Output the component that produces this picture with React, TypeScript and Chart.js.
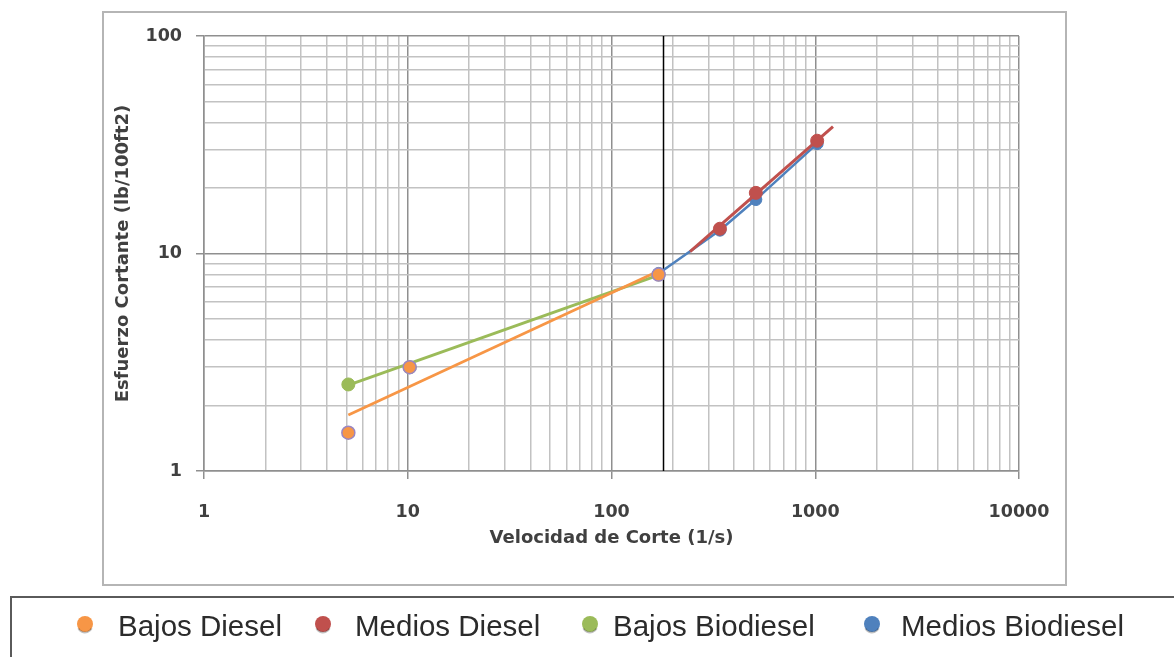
import React, { useEffect, useRef } from 'react';
import { Chart, registerables } from 'chart.js';

Chart.register(...registerables);

// ---------- data ----------
const seriesNames = ['Bajos Diesel', 'Medios Diesel', 'Bajos Biodiesel', 'Medios Biodiesel'];

const bajosDieselX = [5.11, 10.22, 170.3];
const bajosDieselY = [1.5, 3.0, 8.0];
const bajosDieselTrendX = [5.11, 170.3];
const bajosDieselTrendY = [1.81, 8.3];

const mediosDieselX = [340.6, 510.9, 1021.8];
const mediosDieselY = [13.0, 19.0, 33.0];
const mediosDieselTrendX = [243, 1222];
const mediosDieselTrendY = [10.2, 38.3];

const bajosBioX = [5.11, 10.22, 170.3];
const bajosBioY = [2.5, 3.0, 8.0];
const bajosBioTrendX = [5.11, 170.3];
const bajosBioTrendY = [2.48, 7.95];

const mediosBioX = [170.3, 340.6, 510.9, 1021.8];
const mediosBioY = [8.1, 12.8, 17.7, 32.0];

const dividerX = [180, 180];
const dividerY = [1, 100];

const xMajor = [1, 10, 100, 1000, 10000];
const xTickLabels = ['1', '10', '100', '1000', '10000'];
const yMajor = [1, 10, 100];
const yTickLabels = ['1', '10', '100'];
const minorMultipliers = [2, 3, 4, 5, 6, 7, 8, 9];

// ---------- helpers ----------
const pts = (xs: number[], ys: number[]) => xs.map((x, i) => ({ x, y: ys[i] }));

const buildLogTicks = (majors: number[]) => {
  const out: { value: number }[] = [];
  majors.forEach((m, i) => {
    out.push({ value: m });
    if (i < majors.length - 1) minorMultipliers.forEach((k) => out.push({ value: m * k }));
  });
  return out;
};

const isMajorVal = (v: number, majors: number[]) => majors.some((m) => Math.abs(m - v) < 1e-9 * m);
const labelFor = (v: number, majors: number[], labels: string[]) => {
  const i = majors.findIndex((m) => Math.abs(m - v) < 1e-9 * m);
  return i >= 0 ? labels[i] : '';
};

const COLORS = {
  orange: '#F79646',
  red: '#C0504D',
  green: '#9BBB59',
  blue: '#4F81BD',
};

const GRID_MAJOR = '#8f8f8f';
const GRID_MINOR = '#c2c2c2';

const tickFont = { family: '"DejaVu Sans", sans-serif', size: 17.5, weight: 'bold' as const };
const titleFont = { family: '"DejaVu Sans", sans-serif', size: 18, weight: 'bold' as const };

const legendSlots = [
  { dot: 85, text: 118 },
  { dot: 323, text: 355 },
  { dot: 590, text: 613 },
  { dot: 872, text: 901 },
];

const framePlugin = {
  id: 'framePlugin',
  beforeDraw(chart: any) {
    const ctx = chart.ctx;
    ctx.save();
    ctx.fillStyle = '#ffffff';
    ctx.fillRect(0, 0, chart.width, chart.height);
    ctx.strokeStyle = '#b5b5b5';
    ctx.lineWidth = 2;
    ctx.strokeRect(103, 12, 963, 573);
    ctx.restore();
  },
  afterDraw(chart: any) {
    const ctx = chart.ctx;
    ctx.save();
    ctx.strokeStyle = '#5a5a5a';
    ctx.lineWidth = 2;
    ctx.strokeRect(11, 597, 1250, 120);
    const items = chart.data.datasets.filter((d: any) => seriesNames.includes(d.label));
    items.forEach((ds: any, i: number) => {
      const p = legendSlots[i];
      if (!p) return;
      const cy = 624;
      ctx.beginPath();
      ctx.arc(p.dot, cy, 8, 0, Math.PI * 2);
      ctx.fillStyle = ds.backgroundColor;
      ctx.fill();
      ctx.beginPath();
      ctx.arc(p.dot, cy + 1, 7.5, 0.15 * Math.PI, 0.85 * Math.PI);
      ctx.strokeStyle = 'rgba(0,0,0,0.25)';
      ctx.lineWidth = 2;
      ctx.stroke();
      ctx.font = '29.5px "Liberation Sans", Arial, sans-serif';
      ctx.fillStyle = '#2b2b2b';
      ctx.textBaseline = 'alphabetic';
      ctx.textAlign = 'left';
      ctx.fillText(ds.label, p.text, 636);
    });
    ctx.restore();
  },
};

export default function App() {
  const ref = useRef<HTMLCanvasElement>(null);

  useEffect(() => {
    if (!ref.current) return;
    const chart = new Chart(ref.current, {
      type: 'scatter',
      data: {
        datasets: [
          {
            label: seriesNames[0],
            data: pts(bajosDieselX, bajosDieselY),
            backgroundColor: COLORS.orange,
            borderColor: '#9a86c2',
            pointBorderWidth: 1.5,
            pointRadius: 6.5,
            showLine: false,
            order: 1,
          },
          {
            label: seriesNames[1],
            data: pts(mediosDieselX, mediosDieselY),
            backgroundColor: COLORS.red,
            borderColor: COLORS.red,
            pointBorderWidth: 1,
            pointRadius: 6.5,
            showLine: false,
            order: 2,
          },
          {
            label: seriesNames[2],
            data: pts(bajosBioX, bajosBioY),
            backgroundColor: COLORS.green,
            borderColor: COLORS.green,
            pointBorderWidth: 1,
            pointRadius: 6.5,
            showLine: false,
            order: 3,
          },
          {
            label: seriesNames[3],
            data: pts(mediosBioX, mediosBioY),
            backgroundColor: COLORS.blue,
            borderColor: COLORS.blue,
            pointBorderWidth: 1,
            pointRadius: 6,
            showLine: true,
            borderWidth: 2.5,
            order: 8,
          },
          {
            label: '',
            data: pts(bajosDieselTrendX, bajosDieselTrendY),
            borderColor: COLORS.orange,
            backgroundColor: COLORS.orange,
            borderWidth: 2.8,
            pointRadius: 0,
            showLine: true,
            order: 5,
          },
          {
            label: '',
            data: pts(mediosDieselTrendX, mediosDieselTrendY),
            borderColor: COLORS.red,
            backgroundColor: COLORS.red,
            borderWidth: 3,
            pointRadius: 0,
            showLine: true,
            order: 4,
          },
          {
            label: '',
            data: pts(bajosBioTrendX, bajosBioTrendY),
            borderColor: COLORS.green,
            backgroundColor: COLORS.green,
            borderWidth: 3,
            pointRadius: 0,
            showLine: true,
            order: 6,
          },
          {
            label: '',
            data: pts(dividerX, dividerY),
            borderColor: '#000000',
            backgroundColor: '#000000',
            borderWidth: 1.5,
            pointRadius: 0,
            showLine: true,
            order: 9,
          },
        ] as any,
      },
      options: {
        responsive: false,
        animation: false,
        devicePixelRatio: 1,
        layout: { padding: { left: 103, top: 36, right: 155, bottom: 72 } },
        plugins: {
          legend: { display: false },
          tooltip: { enabled: false },
        },
        scales: {
          x: {
            type: 'logarithmic',
            position: 'bottom',
            min: 1,
            max: 10000,
            afterBuildTicks: (s: any) => {
              s.ticks = buildLogTicks(xMajor);
            },
            afterFit: (s: any) => {
              s.height = 114;
            },
            ticks: {
              autoSkip: false,
              maxRotation: 0,
              padding: 23,
              color: '#404040',
              font: tickFont,
              callback: (v: any) => labelFor(Number(v), xMajor, xTickLabels),
            },
            grid: {
              color: (c: any) => (c.tick && isMajorVal(c.tick.value, xMajor) ? GRID_MAJOR : GRID_MINOR),
              lineWidth: 1.5,
              tickLength: 8,
              tickColor: (c: any) => (c.tick && isMajorVal(c.tick.value, xMajor) ? GRID_MAJOR : 'rgba(0,0,0,0)'),
            },
            border: { color: GRID_MAJOR, width: 1.5 },
            title: {
              display: true,
              text: 'Velocidad de Corte (1/s)',
              color: '#404040',
              font: titleFont,
              padding: { top: 0, bottom: 36 },
            },
          },
          y: {
            type: 'logarithmic',
            position: 'left',
            min: 1,
            max: 100,
            afterBuildTicks: (s: any) => {
              s.ticks = buildLogTicks(yMajor);
            },
            afterFit: (s: any) => {
              s.width = 101;
            },
            ticks: {
              autoSkip: false,
              padding: 14,
              color: '#404040',
              font: tickFont,
              callback: (v: any) => labelFor(Number(v), yMajor, yTickLabels),
            },
            grid: {
              color: (c: any) => (c.tick && isMajorVal(c.tick.value, yMajor) ? GRID_MAJOR : GRID_MINOR),
              lineWidth: 1.5,
              tickLength: 8,
              tickColor: (c: any) => (c.tick && isMajorVal(c.tick.value, yMajor) ? GRID_MAJOR : 'rgba(0,0,0,0)'),
            },
            border: { color: GRID_MAJOR, width: 1.5 },
            title: {
              display: true,
              text: 'Esfuerzo Cortante (lb/100ft2)',
              color: '#404040',
              font: titleFont,
              padding: { top: 10, bottom: 0 },
            },
          },
        },
      } as any,
      plugins: [framePlugin],
    });
    return () => chart.destroy();
  }, []);

  return (
    <div style={{ position: 'absolute', left: 0, top: 0, width: 1174, height: 657, background: '#ffffff' }}>
      <canvas ref={ref} width={1174} height={657} style={{ display: 'block' }} />
    </div>
  );
}
